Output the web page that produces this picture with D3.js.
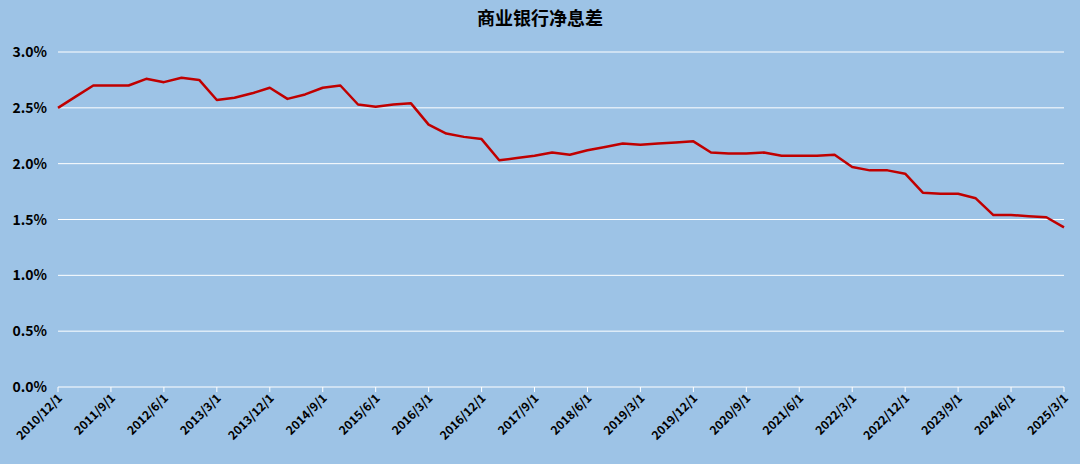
<!DOCTYPE html>
<html>
<head>
<meta charset="utf-8">
<script src="https://cdn.jsdelivr.net/npm/d3@7"></script>
<style>
body { margin: 0; background: #9dc3e6; }
svg { display: block; font-family: "Noto Sans CJK SC", "Liberation Sans", sans-serif; }
</style>
</head>
<body>
<script>
// Quarterly net interest margin, 2010/12 .. 2025/3
const startYear = 2010, startMonth = 12;
const nimValues = [
  2.50, 2.60, 2.70, 2.70, 2.70, 2.76, 2.73, 2.77, 2.75, 2.57,
  2.59, 2.63, 2.68, 2.58, 2.62, 2.68, 2.70, 2.53, 2.51, 2.53,
  2.54, 2.35, 2.27, 2.24, 2.22, 2.03, 2.05, 2.07, 2.10, 2.08,
  2.12, 2.15, 2.18, 2.17, 2.18, 2.19, 2.20, 2.10, 2.09, 2.09,
  2.10, 2.07, 2.07, 2.07, 2.08, 1.97, 1.94, 1.94, 1.91, 1.74,
  1.73, 1.73, 1.69, 1.54, 1.54, 1.53, 1.52, 1.43
];
const yTicks = [0, 0.5, 1.0, 1.5, 2.0, 2.5, 3.0];

const dateLabel = i => {
  const m = startMonth - 1 + i * 3;
  return `${startYear + Math.floor(m / 12)}/${m % 12 + 1}/1`;
};

const width = 1080, height = 464;
const margin = { top: 52, right: 16, bottom: 77, left: 58 };

const svg = d3.select("body").append("svg")
    .attr("width", width)
    .attr("height", height);

svg.append("text")
    .attr("x", width / 2).attr("y", 25)
    .attr("text-anchor", "middle")
    .attr("font-size", 18).attr("font-weight", "bold")
    .text("商业银行净息差");

const x = d3.scaleLinear().domain([0, nimValues.length - 1]).range([margin.left, width - margin.right]);
const y = d3.scaleLinear().domain([0, 3]).range([height - margin.bottom, margin.top]);

// gridlines
svg.append("g").selectAll("line").data(yTicks).join("line")
    .attr("x1", margin.left).attr("x2", width - margin.right)
    .attr("y1", d => y(d)).attr("y2", d => y(d))
    .attr("stroke", "#ffffff").attr("stroke-width", 1);

// y labels
svg.append("g").selectAll("text").data(yTicks).join("text")
    .attr("x", margin.left - 11).attr("y", d => y(d) + 5)
    .attr("text-anchor", "end")
    .attr("font-size", 14).attr("font-weight", "bold")
    .text(d => d.toFixed(1) + "%");

// x ticks and labels every 3 quarters
const xIdx = d3.range(0, nimValues.length, 3);
svg.append("g").selectAll("line").data(xIdx).join("line")
    .attr("x1", d => x(d)).attr("x2", d => x(d))
    .attr("y1", y(0)).attr("y2", y(0) + 5)
    .attr("stroke", "#ffffff");
svg.append("g").selectAll("text").data(xIdx).join("text")
    .attr("transform", d => `translate(${x(d) + 5},${y(0) + 12}) rotate(-45)`)
    .attr("text-anchor", "end")
    .attr("font-size", 12).attr("font-weight", "bold")
    .text(d => dateLabel(d));

// line
svg.append("path")
    .datum(nimValues)
    .attr("fill", "none")
    .attr("stroke", "#c00000")
    .attr("stroke-width", 2.5)
    .attr("stroke-linejoin", "round")
    .attr("d", d3.line().x((d, i) => x(i)).y(d => y(d)));
</script>
</body>
</html>
